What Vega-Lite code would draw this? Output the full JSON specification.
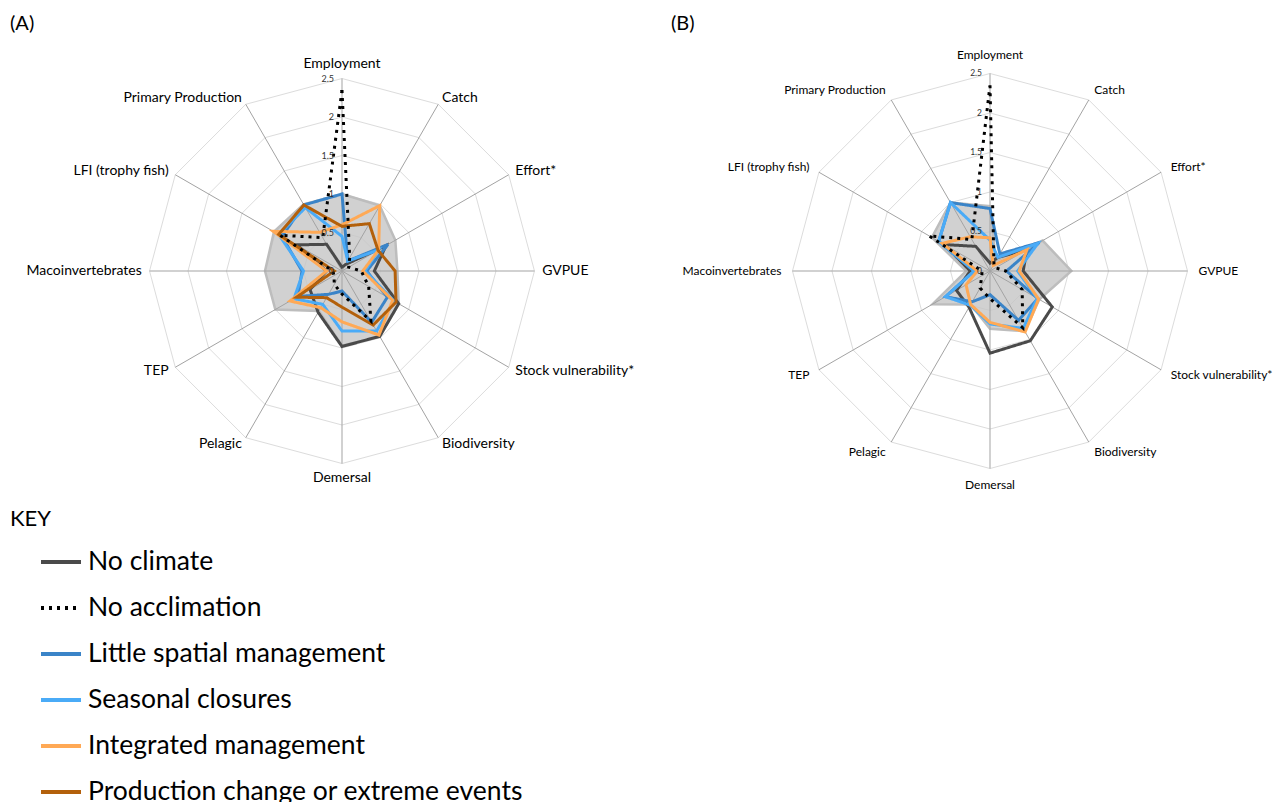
{
  "$schema": "https://vega.github.io/schema/vega-lite/v6.json",
  "padding": {"left": 0, "top": 14, "right": 0, "bottom": 0},
  "background": "white",
  "bounds": "flush",
  "spacing": 0,
  "config": {"view": {"stroke": null}, "font": "Lato"},
  "datasets": {
    "axes": [
      {"i": 0, "name": "Employment"}, {"i": 1, "name": "Catch"}, {"i": 2, "name": "Effort*"},
      {"i": 3, "name": "GVPUE"}, {"i": 4, "name": "Stock vulnerability*"}, {"i": 5, "name": "Biodiversity"},
      {"i": 6, "name": "Demersal"}, {"i": 7, "name": "Pelagic"}, {"i": 8, "name": "TEP"},
      {"i": 9, "name": "Macoinvertebrates"}, {"i": 10, "name": "LFI (trophy fish)"}, {"i": 11, "name": "Primary Production"}
    ],
    "ticks": [
      {"t": "0", "r": 0}, {"t": "0.5", "r": 0.5}, {"t": "1", "r": 1},
      {"t": "1.5", "r": 1.5}, {"t": "2", "r": 2}, {"t": "2.5", "r": 2.5}
    ],
    "rings": [
      {"ring": 0.5, "i": 0}, {"ring": 0.5, "i": 1}, {"ring": 0.5, "i": 2}, {"ring": 0.5, "i": 3}, {"ring": 0.5, "i": 4}, {"ring": 0.5, "i": 5},
      {"ring": 0.5, "i": 6}, {"ring": 0.5, "i": 7}, {"ring": 0.5, "i": 8}, {"ring": 0.5, "i": 9}, {"ring": 0.5, "i": 10}, {"ring": 0.5, "i": 11},
      {"ring": 1, "i": 0}, {"ring": 1, "i": 1}, {"ring": 1, "i": 2}, {"ring": 1, "i": 3}, {"ring": 1, "i": 4}, {"ring": 1, "i": 5},
      {"ring": 1, "i": 6}, {"ring": 1, "i": 7}, {"ring": 1, "i": 8}, {"ring": 1, "i": 9}, {"ring": 1, "i": 10}, {"ring": 1, "i": 11},
      {"ring": 1.5, "i": 0}, {"ring": 1.5, "i": 1}, {"ring": 1.5, "i": 2}, {"ring": 1.5, "i": 3}, {"ring": 1.5, "i": 4}, {"ring": 1.5, "i": 5},
      {"ring": 1.5, "i": 6}, {"ring": 1.5, "i": 7}, {"ring": 1.5, "i": 8}, {"ring": 1.5, "i": 9}, {"ring": 1.5, "i": 10}, {"ring": 1.5, "i": 11},
      {"ring": 2, "i": 0}, {"ring": 2, "i": 1}, {"ring": 2, "i": 2}, {"ring": 2, "i": 3}, {"ring": 2, "i": 4}, {"ring": 2, "i": 5},
      {"ring": 2, "i": 6}, {"ring": 2, "i": 7}, {"ring": 2, "i": 8}, {"ring": 2, "i": 9}, {"ring": 2, "i": 10}, {"ring": 2, "i": 11},
      {"ring": 2.5, "i": 0}, {"ring": 2.5, "i": 1}, {"ring": 2.5, "i": 2}, {"ring": 2.5, "i": 3}, {"ring": 2.5, "i": 4}, {"ring": 2.5, "i": 5},
      {"ring": 2.5, "i": 6}, {"ring": 2.5, "i": 7}, {"ring": 2.5, "i": 8}, {"ring": 2.5, "i": 9}, {"ring": 2.5, "i": 10}, {"ring": 2.5, "i": 11}
    ],
    "envelope": [
      {"panel": "A", "i": 0, "v": 1.0}, {"panel": "A", "i": 1, "v": 0.98}, {"panel": "A", "i": 2, "v": 0.8}, {"panel": "A", "i": 3, "v": 0.72},
      {"panel": "A", "i": 4, "v": 0.85}, {"panel": "A", "i": 5, "v": 0.98}, {"panel": "A", "i": 6, "v": 0.97}, {"panel": "A", "i": 7, "v": 0.6},
      {"panel": "A", "i": 8, "v": 1.0}, {"panel": "A", "i": 9, "v": 1.0}, {"panel": "A", "i": 10, "v": 1.02}, {"panel": "A", "i": 11, "v": 1.0},
      {"panel": "B", "i": 0, "v": 0.82}, {"panel": "B", "i": 1, "v": 0.15}, {"panel": "B", "i": 2, "v": 0.77}, {"panel": "B", "i": 3, "v": 1.03},
      {"panel": "B", "i": 4, "v": 0.72}, {"panel": "B", "i": 5, "v": 0.88}, {"panel": "B", "i": 6, "v": 0.73}, {"panel": "B", "i": 7, "v": 0.49},
      {"panel": "B", "i": 8, "v": 0.84}, {"panel": "B", "i": 9, "v": 0.3}, {"panel": "B", "i": 10, "v": 0.85}, {"panel": "B", "i": 11, "v": 1.0}
    ],
    "scores": [
      {"panel": "A", "series": "No climate", "i": 0, "v": 0.05}, {"panel": "A", "series": "No climate", "i": 1, "v": 0.1},
      {"panel": "A", "series": "No climate", "i": 2, "v": 0.66}, {"panel": "A", "series": "No climate", "i": 3, "v": 0.42},
      {"panel": "A", "series": "No climate", "i": 4, "v": 0.85}, {"panel": "A", "series": "No climate", "i": 5, "v": 0.98},
      {"panel": "A", "series": "No climate", "i": 6, "v": 0.98}, {"panel": "A", "series": "No climate", "i": 7, "v": 0.62},
      {"panel": "A", "series": "No climate", "i": 8, "v": 0.48}, {"panel": "A", "series": "No climate", "i": 9, "v": 0.2},
      {"panel": "A", "series": "No climate", "i": 10, "v": 0.68}, {"panel": "A", "series": "No climate", "i": 11, "v": 0.4},

      {"panel": "A", "series": "Little spatial management", "i": 0, "v": 1.0}, {"panel": "A", "series": "Little spatial management", "i": 1, "v": 0.15},
      {"panel": "A", "series": "Little spatial management", "i": 2, "v": 0.69}, {"panel": "A", "series": "Little spatial management", "i": 3, "v": 0.32},
      {"panel": "A", "series": "Little spatial management", "i": 4, "v": 0.68}, {"panel": "A", "series": "Little spatial management", "i": 5, "v": 0.77},
      {"panel": "A", "series": "Little spatial management", "i": 6, "v": 0.26}, {"panel": "A", "series": "Little spatial management", "i": 7, "v": 0.35},
      {"panel": "A", "series": "Little spatial management", "i": 8, "v": 0.66}, {"panel": "A", "series": "Little spatial management", "i": 9, "v": 0.52},
      {"panel": "A", "series": "Little spatial management", "i": 10, "v": 0.9}, {"panel": "A", "series": "Little spatial management", "i": 11, "v": 0.99},

      {"panel": "A", "series": "Seasonal closures", "i": 0, "v": 0.45}, {"panel": "A", "series": "Seasonal closures", "i": 1, "v": 0.15},
      {"panel": "A", "series": "Seasonal closures", "i": 2, "v": 0.55}, {"panel": "A", "series": "Seasonal closures", "i": 3, "v": 0.3},
      {"panel": "A", "series": "Seasonal closures", "i": 4, "v": 0.78}, {"panel": "A", "series": "Seasonal closures", "i": 5, "v": 0.9},
      {"panel": "A", "series": "Seasonal closures", "i": 6, "v": 0.78}, {"panel": "A", "series": "Seasonal closures", "i": 7, "v": 0.5},
      {"panel": "A", "series": "Seasonal closures", "i": 8, "v": 0.72}, {"panel": "A", "series": "Seasonal closures", "i": 9, "v": 0.5},
      {"panel": "A", "series": "Seasonal closures", "i": 10, "v": 0.95}, {"panel": "A", "series": "Seasonal closures", "i": 11, "v": 0.95},

      {"panel": "A", "series": "Integrated management", "i": 0, "v": 0.6}, {"panel": "A", "series": "Integrated management", "i": 1, "v": 0.98},
      {"panel": "A", "series": "Integrated management", "i": 2, "v": 0.55}, {"panel": "A", "series": "Integrated management", "i": 3, "v": 0.27},
      {"panel": "A", "series": "Integrated management", "i": 4, "v": 0.76}, {"panel": "A", "series": "Integrated management", "i": 5, "v": 0.96},
      {"panel": "A", "series": "Integrated management", "i": 6, "v": 0.66}, {"panel": "A", "series": "Integrated management", "i": 7, "v": 0.55},
      {"panel": "A", "series": "Integrated management", "i": 8, "v": 0.78}, {"panel": "A", "series": "Integrated management", "i": 9, "v": 0.2},
      {"panel": "A", "series": "Integrated management", "i": 10, "v": 1.03}, {"panel": "A", "series": "Integrated management", "i": 11, "v": 0.58},

      {"panel": "A", "series": "Production change or extreme events", "i": 0, "v": 0.58}, {"panel": "A", "series": "Production change or extreme events", "i": 1, "v": 0.71},
      {"panel": "A", "series": "Production change or extreme events", "i": 2, "v": 0.54}, {"panel": "A", "series": "Production change or extreme events", "i": 3, "v": 0.69},
      {"panel": "A", "series": "Production change or extreme events", "i": 4, "v": 0.81}, {"panel": "A", "series": "Production change or extreme events", "i": 5, "v": 0.81},
      {"panel": "A", "series": "Production change or extreme events", "i": 6, "v": 0.47}, {"panel": "A", "series": "Production change or extreme events", "i": 7, "v": 0.4},
      {"panel": "A", "series": "Production change or extreme events", "i": 8, "v": 0.68}, {"panel": "A", "series": "Production change or extreme events", "i": 9, "v": 0.1},
      {"panel": "A", "series": "Production change or extreme events", "i": 10, "v": 0.95}, {"panel": "A", "series": "Production change or extreme events", "i": 11, "v": 0.99},

      {"panel": "A", "series": "No acclimation", "i": 0, "v": 2.35}, {"panel": "A", "series": "No acclimation", "i": 1, "v": 0.2},
      {"panel": "A", "series": "No acclimation", "i": 2, "v": 0.1}, {"panel": "A", "series": "No acclimation", "i": 3, "v": 0.25},
      {"panel": "A", "series": "No acclimation", "i": 4, "v": 0.4}, {"panel": "A", "series": "No acclimation", "i": 5, "v": 0.75},
      {"panel": "A", "series": "No acclimation", "i": 6, "v": 0.3}, {"panel": "A", "series": "No acclimation", "i": 7, "v": 0.2},
      {"panel": "A", "series": "No acclimation", "i": 8, "v": 0.12}, {"panel": "A", "series": "No acclimation", "i": 9, "v": 0.12},
      {"panel": "A", "series": "No acclimation", "i": 10, "v": 0.93}, {"panel": "A", "series": "No acclimation", "i": 11, "v": 0.5},

      {"panel": "B", "series": "No climate", "i": 0, "v": 0.1}, {"panel": "B", "series": "No climate", "i": 1, "v": 0.2},
      {"panel": "B", "series": "No climate", "i": 2, "v": 0.54}, {"panel": "B", "series": "No climate", "i": 3, "v": 0.42},
      {"panel": "B", "series": "No climate", "i": 4, "v": 0.91}, {"panel": "B", "series": "No climate", "i": 5, "v": 1.02},
      {"panel": "B", "series": "No climate", "i": 6, "v": 1.04}, {"panel": "B", "series": "No climate", "i": 7, "v": 0.53},
      {"panel": "B", "series": "No climate", "i": 8, "v": 0.49}, {"panel": "B", "series": "No climate", "i": 9, "v": 0.25},
      {"panel": "B", "series": "No climate", "i": 10, "v": 0.67}, {"panel": "B", "series": "No climate", "i": 11, "v": 0.36},

      {"panel": "B", "series": "Little spatial management", "i": 0, "v": 0.79}, {"panel": "B", "series": "Little spatial management", "i": 1, "v": 0.25},
      {"panel": "B", "series": "Little spatial management", "i": 2, "v": 0.72}, {"panel": "B", "series": "Little spatial management", "i": 3, "v": 0.21},
      {"panel": "B", "series": "Little spatial management", "i": 4, "v": 0.7}, {"panel": "B", "series": "Little spatial management", "i": 5, "v": 0.72},
      {"panel": "B", "series": "Little spatial management", "i": 6, "v": 0.3}, {"panel": "B", "series": "Little spatial management", "i": 7, "v": 0.45},
      {"panel": "B", "series": "Little spatial management", "i": 8, "v": 0.65}, {"panel": "B", "series": "Little spatial management", "i": 9, "v": 0.2},
      {"panel": "B", "series": "Little spatial management", "i": 10, "v": 0.75}, {"panel": "B", "series": "Little spatial management", "i": 11, "v": 1.0},

      {"panel": "B", "series": "Seasonal closures", "i": 0, "v": 0.39}, {"panel": "B", "series": "Seasonal closures", "i": 1, "v": 0.2},
      {"panel": "B", "series": "Seasonal closures", "i": 2, "v": 0.7}, {"panel": "B", "series": "Seasonal closures", "i": 3, "v": 0.35},
      {"panel": "B", "series": "Seasonal closures", "i": 4, "v": 0.69}, {"panel": "B", "series": "Seasonal closures", "i": 5, "v": 0.84},
      {"panel": "B", "series": "Seasonal closures", "i": 6, "v": 0.67}, {"panel": "B", "series": "Seasonal closures", "i": 7, "v": 0.5},
      {"panel": "B", "series": "Seasonal closures", "i": 8, "v": 0.65}, {"panel": "B", "series": "Seasonal closures", "i": 9, "v": 0.2},
      {"panel": "B", "series": "Seasonal closures", "i": 10, "v": 0.75}, {"panel": "B", "series": "Seasonal closures", "i": 11, "v": 1.0},

      {"panel": "B", "series": "Integrated management", "i": 0, "v": 0.42}, {"panel": "B", "series": "Integrated management", "i": 1, "v": 0.08},
      {"panel": "B", "series": "Integrated management", "i": 2, "v": 0.54}, {"panel": "B", "series": "Integrated management", "i": 3, "v": 0.37},
      {"panel": "B", "series": "Integrated management", "i": 4, "v": 0.71}, {"panel": "B", "series": "Integrated management", "i": 5, "v": 0.89},
      {"panel": "B", "series": "Integrated management", "i": 6, "v": 0.65}, {"panel": "B", "series": "Integrated management", "i": 7, "v": 0.49},
      {"panel": "B", "series": "Integrated management", "i": 8, "v": 0.35}, {"panel": "B", "series": "Integrated management", "i": 9, "v": 0.16},
      {"panel": "B", "series": "Integrated management", "i": 10, "v": 0.7}, {"panel": "B", "series": "Integrated management", "i": 11, "v": 0.5},

      {"panel": "B", "series": "No acclimation", "i": 0, "v": 2.35}, {"panel": "B", "series": "No acclimation", "i": 1, "v": 0.1},
      {"panel": "B", "series": "No acclimation", "i": 2, "v": 0.08}, {"panel": "B", "series": "No acclimation", "i": 3, "v": 0.2},
      {"panel": "B", "series": "No acclimation", "i": 4, "v": 0.47}, {"panel": "B", "series": "No acclimation", "i": 5, "v": 0.83},
      {"panel": "B", "series": "No acclimation", "i": 6, "v": 0.35}, {"panel": "B", "series": "No acclimation", "i": 7, "v": 0.25},
      {"panel": "B", "series": "No acclimation", "i": 8, "v": 0.12}, {"panel": "B", "series": "No acclimation", "i": 9, "v": 0.1},
      {"panel": "B", "series": "No acclimation", "i": 10, "v": 0.89}, {"panel": "B", "series": "No acclimation", "i": 11, "v": 0.46}
    ]
  },
  "hconcat": [
    {
      "width": 684,
      "height": 463,
      "title": {"text": "(A)", "anchor": "start", "frame": "group", "fontSize": 20, "font": "Lato", "fontWeight": "normal", "color": "#000000", "dx": 10, "offset": 4},
      "encoding": {
        "x": {"field": "x", "type": "quantitative", "scale": {"domain": [-4.442, 4.442], "nice": false, "zero": false}, "axis": null},
        "y": {"field": "y", "type": "quantitative", "scale": {"domain": [-2.987, 3.026], "nice": false, "zero": false}, "axis": null}
      },
      "layer": [
        {
          "data": {"name": "rings"},
          "transform": [
            {"calculate": "datum.ring*sin(datum.i*PI/6)", "as": "x"},
            {"calculate": "datum.ring*cos(datum.i*PI/6)", "as": "y"}
          ],
          "mark": {"type": "line", "interpolate": "linear-closed", "stroke": "#dcdcdc", "strokeWidth": 1},
          "encoding": {"detail": {"field": "ring", "type": "nominal"}, "order": {"field": "i", "type": "quantitative"}}
        },
        {
          "data": {"name": "envelope"},
          "transform": [
            {"filter": "datum.panel === 'A'"},
            {"calculate": "datum.v*sin(datum.i*PI/6)", "as": "x"},
            {"calculate": "datum.v*cos(datum.i*PI/6)", "as": "y"}
          ],
          "mark": {"type": "line", "interpolate": "linear-closed", "fill": "#c6c6c6", "fillOpacity": 0.8, "stroke": "#bdbdbd", "strokeWidth": 2.5},
          "encoding": {"order": {"field": "i", "type": "quantitative"}}
        },
        {
          "data": {"name": "axes"},
          "transform": [
            {"calculate": "0", "as": "x"},
            {"calculate": "0", "as": "y"},
            {"calculate": "2.5*sin(datum.i*PI/6)", "as": "x2"},
            {"calculate": "2.5*cos(datum.i*PI/6)", "as": "y2"}
          ],
          "mark": {"type": "rule", "stroke": "#a3a3a3", "strokeWidth": 1},
          "encoding": {"x2": {"field": "x2"}, "y2": {"field": "y2"}}
        },
        {
          "data": {"name": "scores"},
          "transform": [
            {"filter": "datum.panel === 'A'"},
            {"calculate": "datum.v*sin(datum.i*PI/6)", "as": "x"},
            {"calculate": "datum.v*cos(datum.i*PI/6)", "as": "y"}
          ],
          "mark": {"type": "line", "interpolate": "linear-closed", "strokeWidth": 3},
          "encoding": {
            "order": {"field": "i", "type": "quantitative"},
            "color": {
              "field": "series", "type": "nominal",
              "scale": {
                "domain": ["No climate", "No acclimation", "Little spatial management", "Seasonal closures", "Integrated management", "Production change or extreme events"],
                "range": ["#4a4a4a", "#000000", "#3a84c8", "#4aabf7", "#ffa955", "#b3600b"]
              },
              "legend": {
                "title": "KEY", "orient": "none", "legendX": 10, "legendY": 471, "padding": 0,
                "symbolType": "stroke", "symbolSize": 1600, "symbolStrokeWidth": 4, "symbolOffset": 29,
                "labelFont": "Lato", "labelFontSize": 26.5, "labelColor": "#000000", "labelOffset": 5, "labelLimit": 700,
                "titleFont": "Lato", "titleFontSize": 22, "titleFontWeight": "normal", "titleColor": "#000000", "titlePadding": 9,
                "rowPadding": 10
              }
            },
            "strokeDash": {
              "field": "series", "type": "nominal",
              "scale": {
                "domain": ["No climate", "No acclimation", "Little spatial management", "Seasonal closures", "Integrated management", "Production change or extreme events"],
                "range": [[1, 0], [3, 5], [1, 0], [1, 0], [1, 0], [1, 0]]
              },
              "legend": {
                "title": "KEY", "orient": "none", "legendX": 10, "legendY": 471, "padding": 0,
                "symbolType": "stroke", "symbolSize": 1600, "symbolStrokeWidth": 4, "symbolOffset": 29,
                "labelFont": "Lato", "labelFontSize": 26.5, "labelColor": "#000000", "labelOffset": 5, "labelLimit": 700,
                "titleFont": "Lato", "titleFontSize": 22, "titleFontWeight": "normal", "titleColor": "#000000", "titlePadding": 9,
                "rowPadding": 10
              }
            }
          }
        },
        {
          "data": {"name": "ticks"},
          "transform": [{"calculate": "0", "as": "x"}, {"calculate": "datum.r", "as": "y"}],
          "mark": {"type": "text", "align": "right", "baseline": "middle", "dx": -8, "fontSize": 9, "font": "Lato", "color": "#333333"},
          "encoding": {"text": {"field": "t"}}
        },
        {
          "data": {"name": "axes"},
          "transform": [{"filter": "datum.i === 0"}, {"calculate": "0", "as": "x"}, {"calculate": "2.6", "as": "y"}],
          "mark": {"type": "text", "align": "center", "baseline": "bottom", "fontSize": 14, "font": "Lato", "color": "#000000"},
          "encoding": {"text": {"field": "name"}}
        },
        {
          "data": {"name": "axes"},
          "transform": [{"filter": "datum.i === 6"}, {"calculate": "0", "as": "x"}, {"calculate": "-2.6", "as": "y"}],
          "mark": {"type": "text", "align": "center", "baseline": "top", "fontSize": 14, "font": "Lato", "color": "#000000"},
          "encoding": {"text": {"field": "name"}}
        },
        {
          "data": {"name": "axes"},
          "transform": [{"filter": "datum.i > 0 && datum.i < 6"}, {"calculate": "2.6*sin(datum.i*PI/6)", "as": "x"}, {"calculate": "2.6*cos(datum.i*PI/6)", "as": "y"}],
          "mark": {"type": "text", "align": "left", "baseline": "middle", "fontSize": 14, "font": "Lato", "color": "#000000"},
          "encoding": {"text": {"field": "name"}}
        },
        {
          "data": {"name": "axes"},
          "transform": [{"filter": "datum.i > 6"}, {"calculate": "2.6*sin(datum.i*PI/6)", "as": "x"}, {"calculate": "2.6*cos(datum.i*PI/6)", "as": "y"}],
          "mark": {"type": "text", "align": "right", "baseline": "middle", "fontSize": 14, "font": "Lato", "color": "#000000"},
          "encoding": {"text": {"field": "name"}}
        }
      ]
    },
    {
      "width": 612,
      "height": 463,
      "title": {"text": "(B)", "anchor": "start", "frame": "group", "fontSize": 20, "font": "Lato", "fontWeight": "normal", "color": "#000000", "dx": -13, "offset": 4},
      "encoding": {
        "x": {"field": "x", "type": "quantitative", "scale": {"domain": [-3.873, 3.873], "nice": false, "zero": false}, "axis": null},
        "y": {"field": "y", "type": "quantitative", "scale": {"domain": [-2.911, 2.949], "nice": false, "zero": false}, "axis": null}
      },
      "layer": [
        {
          "data": {"name": "rings"},
          "transform": [
            {"calculate": "datum.ring*sin(datum.i*PI/6)", "as": "x"},
            {"calculate": "datum.ring*cos(datum.i*PI/6)", "as": "y"}
          ],
          "mark": {"type": "line", "interpolate": "linear-closed", "stroke": "#dcdcdc", "strokeWidth": 1},
          "encoding": {"detail": {"field": "ring", "type": "nominal"}, "order": {"field": "i", "type": "quantitative"}}
        },
        {
          "data": {"name": "envelope"},
          "transform": [
            {"filter": "datum.panel === 'B'"},
            {"calculate": "datum.v*sin(datum.i*PI/6)", "as": "x"},
            {"calculate": "datum.v*cos(datum.i*PI/6)", "as": "y"}
          ],
          "mark": {"type": "line", "interpolate": "linear-closed", "fill": "#c6c6c6", "fillOpacity": 0.8, "stroke": "#bdbdbd", "strokeWidth": 2.5},
          "encoding": {"order": {"field": "i", "type": "quantitative"}}
        },
        {
          "data": {"name": "axes"},
          "transform": [
            {"calculate": "0", "as": "x"},
            {"calculate": "0", "as": "y"},
            {"calculate": "2.5*sin(datum.i*PI/6)", "as": "x2"},
            {"calculate": "2.5*cos(datum.i*PI/6)", "as": "y2"}
          ],
          "mark": {"type": "rule", "stroke": "#a3a3a3", "strokeWidth": 1},
          "encoding": {"x2": {"field": "x2"}, "y2": {"field": "y2"}}
        },
        {
          "data": {"name": "scores"},
          "transform": [
            {"filter": "datum.panel === 'B'"},
            {"calculate": "datum.v*sin(datum.i*PI/6)", "as": "x"},
            {"calculate": "datum.v*cos(datum.i*PI/6)", "as": "y"}
          ],
          "mark": {"type": "line", "interpolate": "linear-closed", "strokeWidth": 3},
          "encoding": {
            "order": {"field": "i", "type": "quantitative"},
            "color": {"field": "series", "type": "nominal"},
            "strokeDash": {"field": "series", "type": "nominal"}
          }
        },
        {
          "data": {"name": "ticks"},
          "transform": [{"calculate": "0", "as": "x"}, {"calculate": "datum.r", "as": "y"}],
          "mark": {"type": "text", "align": "right", "baseline": "middle", "dx": -8, "fontSize": 8.5, "font": "Lato", "color": "#333333"},
          "encoding": {"text": {"field": "t"}}
        },
        {
          "data": {"name": "axes"},
          "transform": [{"filter": "datum.i === 0"}, {"calculate": "0", "as": "x"}, {"calculate": "2.64", "as": "y"}],
          "mark": {"type": "text", "align": "center", "baseline": "bottom", "fontSize": 12, "font": "Lato", "color": "#000000"},
          "encoding": {"text": {"field": "name"}}
        },
        {
          "data": {"name": "axes"},
          "transform": [{"filter": "datum.i === 6"}, {"calculate": "0", "as": "x"}, {"calculate": "-2.64", "as": "y"}],
          "mark": {"type": "text", "align": "center", "baseline": "top", "fontSize": 12, "font": "Lato", "color": "#000000"},
          "encoding": {"text": {"field": "name"}}
        },
        {
          "data": {"name": "axes"},
          "transform": [{"filter": "datum.i > 0 && datum.i < 6"}, {"calculate": "2.64*sin(datum.i*PI/6)", "as": "x"}, {"calculate": "2.64*cos(datum.i*PI/6)", "as": "y"}],
          "mark": {"type": "text", "align": "left", "baseline": "middle", "fontSize": 12, "font": "Lato", "color": "#000000"},
          "encoding": {"text": {"field": "name"}}
        },
        {
          "data": {"name": "axes"},
          "transform": [{"filter": "datum.i > 6"}, {"calculate": "2.64*sin(datum.i*PI/6)", "as": "x"}, {"calculate": "2.64*cos(datum.i*PI/6)", "as": "y"}],
          "mark": {"type": "text", "align": "right", "baseline": "middle", "fontSize": 12, "font": "Lato", "color": "#000000"},
          "encoding": {"text": {"field": "name"}}
        }
      ]
    }
  ]
}
